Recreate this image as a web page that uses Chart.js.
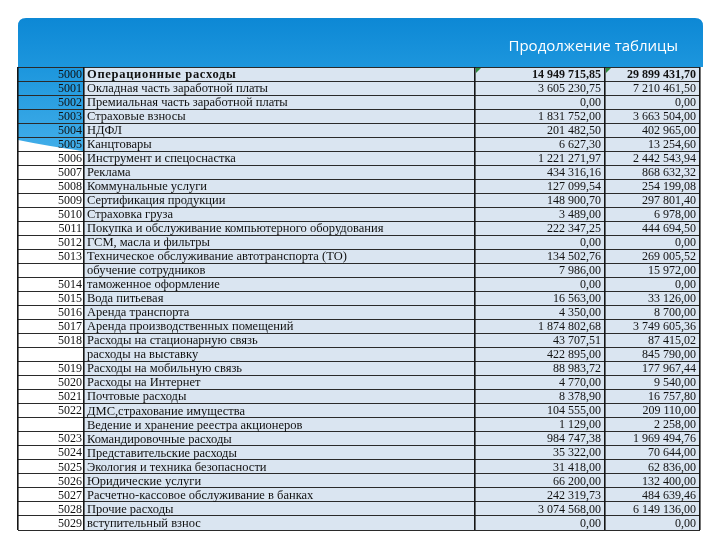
<!DOCTYPE html>
<html>
<head>
<meta charset="utf-8">
<script src="https://cdn.jsdelivr.net/npm/chart.js@4.4.1/dist/chart.umd.min.js"></script>
<style>
  html, body { margin: 0; padding: 0; background: #fff; }
</style>
</head>
<body>
<canvas id="tablica" width="720" height="540"></canvas>
<script>
const kody = ["5000", "5001", "5002", "5003", "5004", "5005", "5006", "5007", "5008", "5009",
  "5010", "5011", "5012", "5013", "", "5014", "5015", "5016", "5017", "5018", "",
  "5019", "5020", "5021", "5022", "", "5023", "5024", "5025", "5026", "5027", "5028", "5029"];

const statyi = [
  "Операционные расходы",
  "Окладная часть заработной платы",
  "Премиальная часть заработной платы",
  "Страховые взносы",
  "НДФЛ",
  "Канцтовары",
  "Инструмент и спецоснастка",
  "Реклама",
  "Коммунальные услуги",
  "Сертификация продукции",
  "Страховка груза",
  "Покупка и обслуживание компьютерного оборудования",
  "ГСМ, масла и фильтры",
  "Техническое обслуживание автотранспорта (ТО)",
  "обучение сотрудников",
  "таможенное оформление",
  "Вода питьевая",
  "Аренда транспорта",
  "Аренда производственных помещений",
  "Расходы на стационарную связь",
  "расходы на выставку",
  "Расходы на мобильную связь",
  "Расходы на Интернет",
  "Почтовые расходы",
  "ДМС,страхование имущества",
  "Ведение и хранение реестра акционеров",
  "Командировочные расходы",
  "Представительские расходы",
  "Экология и техника безопасности",
  "Юридические услуги",
  "Расчетно-кассовое обслуживание в банках",
  "Прочие расходы",
  "вступительный взнос"
];

const summa1 = [14949715.85, 3605230.75, 0, 1831752.00, 201482.50, 6627.30, 1221271.97, 434316.16,
  127099.54, 148900.70, 3489.00, 222347.25, 0, 134502.76, 7986.00, 0, 16563.00, 4350.00,
  1874802.68, 43707.51, 422895.00, 88983.72, 4770.00, 8378.90, 104555.00, 1129.00,
  984747.38, 35322.00, 31418.00, 66200.00, 242319.73, 3074568.00, 0];

const summa2 = [29899431.70, 7210461.50, 0, 3663504.00, 402965.00, 13254.60, 2442543.94, 868632.32,
  254199.08, 297801.40, 6978.00, 444694.50, 0, 269005.52, 15972.00, 0, 33126.00, 8700.00,
  3749605.36, 87415.02, 845790.00, 177967.44, 9540.00, 16757.80, 209110.00, 2258.00,
  1969494.76, 70644.00, 62836.00, 132400.00, 484639.46, 6149136.00, 0];

const zagolovok = "Продолжение таблицы";

// ширины колонок таблицы (в единицах оси x)
const shiriny = [66, 391, 130, 95];
const kraya = [0];
shiriny.forEach(w => kraya.push(kraya[kraya.length - 1] + w));

function formatSumma(n) {
  let s = n.toFixed(2).split(".");
  let cel = s[0].replace(/\B(?=(\d{3})+(?!\d))/g, " ");
  return cel + "," + s[1];
}

const goluboy = "#dae5f1";

// фон слайда: синяя шапка и "волна" в колонке кодов
const fonPlugin = {
  id: "fon",
  beforeDraw(chart) {
    const ctx = chart.ctx;
    const x = chart.scales.x;
    const y = chart.scales.y;
    const top = chart.chartArea.top;
    const kodRight = x.getPixelForValue(kraya[1]);
    const rowH = y.getPixelForValue(1) - y.getPixelForValue(0);
    const y5 = y.getPixelForValue(5);

    ctx.save();
    ctx.fillStyle = "#fff";
    ctx.fillRect(0, 0, chart.width, chart.height);

    let grad = ctx.createLinearGradient(0, 18, 0, y5 + rowH);
    grad.addColorStop(0, "#0d88d5");
    grad.addColorStop(0.4, "#1f98de");
    grad.addColorStop(1, "#45b0ea");
    ctx.fillStyle = grad;
    ctx.beginPath();
    ctx.moveTo(18, 26);
    ctx.quadraticCurveTo(18, 18, 26, 18);
    ctx.lineTo(695, 18);
    ctx.quadraticCurveTo(703, 18, 703, 26);
    ctx.lineTo(703, top);
    ctx.lineTo(kodRight, top);
    ctx.lineTo(kodRight, y5 + rowH * 0.5);
    ctx.quadraticCurveTo(45, y5 + rowH * 0.1, 18, y5 - rowH * 0.3);
    ctx.closePath();
    ctx.fill();

    ctx.fillStyle = "#fff";
    ctx.font = "15px 'Open Sans'";
    ctx.textAlign = "right";
    ctx.textBaseline = "middle";
    ctx.fillText(zagolovok, 678, 47);
    ctx.restore();
  }
};

// текст в ячейках
const tekstPlugin = {
  id: "tekst",
  afterDraw(chart) {
    const ctx = chart.ctx;
    const x = chart.scales.x;
    const y = chart.scales.y;
    ctx.save();
    ctx.fillStyle = "#111";
    ctx.textBaseline = "middle";
    for (let i = 0; i < statyi.length; i++) {
      const py = y.getPixelForValue(i) + 0.5;
      const zhirny = i == 0 ? "bold " : "";
      ctx.font = "12px 'Liberation Serif'";
      ctx.letterSpacing = "0px";
      ctx.textAlign = "right";
      ctx.fillText(kody[i], x.getPixelForValue(kraya[1]) - 2, py);
      ctx.font = zhirny + "12.5px 'Liberation Serif'";
      ctx.letterSpacing = i == 0 ? "0.7px" : "0px";
      ctx.textAlign = "left";
      ctx.fillText(statyi[i], x.getPixelForValue(kraya[1]) + 3, py);
      ctx.letterSpacing = "0px";
      ctx.font = zhirny + "12px 'Liberation Serif'";
      ctx.textAlign = "right";
      ctx.fillText(formatSumma(summa1[i]), x.getPixelForValue(kraya[3]) - 4, py);
      ctx.fillText(formatSumma(summa2[i]), x.getPixelForValue(kraya[4]) - 4, py);
    }
    // зелёные уголки (пометки Excel) в первой строке
    const yTop = y.getPixelForValue(0) - (y.getPixelForValue(1) - y.getPixelForValue(0)) / 2;
    ctx.fillStyle = "#2e8b3e";
    [kraya[2], kraya[3]].forEach(v => {
      const px = x.getPixelForValue(v) + 1;
      ctx.beginPath();
      ctx.moveTo(px, yTop + 1);
      ctx.lineTo(px + 5, yTop + 1);
      ctx.lineTo(px, yTop + 6);
      ctx.closePath();
      ctx.fill();
    });
    ctx.restore();
  }
};

const stroki = statyi.map((s, i) => i);

new Chart(document.getElementById("tablica"), {
  type: "bar",
  data: {
    labels: stroki,
    datasets: shiriny.map((w, c) => ({
      label: "kolonka" + c,
      data: stroki.map(() => w),
      backgroundColor: c == 0 ? "rgba(0,0,0,0)" : goluboy,
      borderWidth: 0,
      barPercentage: 1,
      categoryPercentage: 1
    }))
  },
  options: {
    indexAxis: "y",
    responsive: false,
    animation: false,
    layout: { padding: { left: 18, right: 20, top: 67, bottom: 10 } },
    plugins: {
      legend: { display: false },
      tooltip: { enabled: false }
    },
    scales: {
      x: {
        stacked: true,
        min: 0,
        max: kraya[kraya.length - 1],
        afterBuildTicks: axis => { axis.ticks = kraya.map(v => ({ value: v })); },
        ticks: { display: false },
        grid: { z: 2, drawTicks: false, color: "#151515", lineWidth: 1.6 },
        border: { display: false }
      },
      y: {
        stacked: true,
        ticks: { display: false },
        grid: { z: 1, offset: true, drawTicks: false, color: "#2a2a2a", lineWidth: 1 },
        border: { display: false }
      }
    }
  },
  plugins: [fonPlugin, tekstPlugin]
});
</script>
</body>
</html>
